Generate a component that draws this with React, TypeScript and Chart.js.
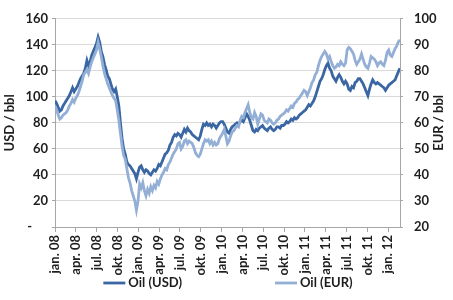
import React, { useEffect, useRef } from "react";
import { Chart, registerables } from "chart.js";

Chart.register(...registerables);

// Weekly observations starting first week of January 2008
const TICK_LABELS = [
  "jan. 08", "apr. 08", "jul. 08", "okt. 08",
  "jan. 09", "apr. 09", "jul. 09", "okt. 09",
  "jan. 10", "apr. 10", "jul. 10", "okt. 10",
  "jan. 11", "apr. 11", "jul. 11", "okt. 11",
  "jan. 12",
];

const SERIES_NAMES = ["Oil (USD)", "Oil (EUR)"];
const LEFT_TITLE = "USD / bbl";
const RIGHT_TITLE = "EUR / bbl";

// Oil price, USD per barrel (weekly)
const USD_2008 = [97,95,92,89,90,93,95,97,99,101,104,107,104,106,108,111,114,116,118,122,128,124,127,132,135,138,141,146,142,135,131,125,121,116,114,110,106,104,106,100,93,80,68,60,56,50,48,47,45,43,41,37,42];
const USD_2009 = [46,47,44,42,44,43,41,40,42,44,43,45,48,47,50,53,56,57,59,63,65,69,71,70,72,71,69,72,75,73,76,74,73,71,70,69,68,67,70,75,79,78,80,78,79,77,79,78,76,78,80,81];
const USD_2010 = [81,79,76,73,72,75,77,78,79,80,79,81,82,81,84,87,85,82,78,74,73,75,74,76,77,78,76,75,74,76,77,75,74,75,77,77,76,78,78,79,81,80,81,83,82,84,83,84,86,87,88,89];
const USD_2011_12 = [90,92,94,93,95,97,100,104,108,112,114,117,121,124,126,122,120,116,114,112,115,117,115,112,110,112,110,106,105,108,107,111,112,114,114,112,110,107,104,101,106,110,113,111,110,111,110,109,108,107,105,107,109,110,111,112,113,116,119,122];

// Oil price, EUR per barrel (weekly)
const EUR_2008 = [66.5,65,63,61.5,62,63,63.5,64,65,66.5,67.5,69,68,69.5,70.5,72,74,76,78.5,79.5,80.5,79,81.5,83.5,85,86.5,88,91,88.5,85.5,82,79,77,75,73.5,72,70.5,69.5,68.5,65,61,56,51,47.5,46,42.5,39,37,34,32,30,26.5,30];
const EUR_2009 = [36.5,35,37,34,32,34.5,33,35.5,34,36,35,37.5,36.5,38.5,40,41,42.5,42,44,45,46.5,48,49,50,52,52.5,50,51,53,53.5,52,53,52.5,52,50.5,48.5,47.5,47,48,50,52,53.5,53,53.5,52,53,51.5,52.5,51.5,52,54,55];
const EUR_2010 = [56,57.5,55,52,53,55,56.5,57,58,59,58.5,61,62.5,62,64,65.5,67,64,62,61.5,64,62.5,59.5,61.5,63.5,63,61,60.5,60,61.5,61,60,59.5,60,61,61.5,62.5,63,63.5,64,65,64.5,65.5,66.5,66,67.5,68,69,69.5,70.5,71.5,72.5];
const EUR_2011_12 = [72,70.5,72,73.5,75.5,76.5,78.5,79.5,82,84,85.5,86.5,87.5,86.5,84.5,85.5,83.5,82,81,81.5,82.5,82,83.5,82.5,82,83,88,89,88.5,87.5,86.5,84,82.5,83.5,84.5,86.5,84.5,82.5,81.5,81,83,85.5,85,84.5,83.5,82,83,83.5,82.5,82,84,87,88,86,85.5,87,88.5,89.5,91,92];

const USD = [...USD_2008, ...USD_2009, ...USD_2010, ...USD_2011_12];
const EUR = [...EUR_2008, ...EUR_2009, ...EUR_2010, ...EUR_2011_12];

const WEEK_IN_MONTHS = 7 / 30.4375;
const X_MAX_MONTHS = 49.7;

const DARK = "#3a67a3";
const LIGHT = "#93afd6";
const TEXT = "#1e1e1e";
const GRID = "#d9d9d9";
const AXIS = "#a6a6a6";
const FONT_FAMILY = "Lato, 'Open Sans', sans-serif";

const extrasPlugin = {
  id: "extras",
  afterDraw(chart: any) {
    const { ctx, chartArea } = chart;
    const cy = (chartArea.top + chartArea.bottom) / 2;
    ctx.save();
    ctx.font = `bold 13px ${FONT_FAMILY}`;
    ctx.fillStyle = TEXT;
    ctx.textAlign = "center";
    ctx.textBaseline = "middle";
    // axis titles (both read bottom-to-top)
    ctx.save();
    ctx.translate(10, cy);
    ctx.rotate(-Math.PI / 2);
    ctx.fillText(LEFT_TITLE, 0, 0);
    ctx.restore();
    ctx.save();
    ctx.translate(439, cy);
    ctx.rotate(-Math.PI / 2);
    ctx.fillText(RIGHT_TITLE, 0, 0);
    ctx.restore();

    // legend
    const lineLen = 22;
    const gapText = 3;
    const gapItems = 93;
    const items = chart.data.datasets.map((d: any) => ({
      text: d.label,
      color: d.borderColor,
      w: lineLen + gapText + ctx.measureText(d.label).width,
    }));
    const total = items.reduce((s: number, it: any) => s + it.w, 0) + gapItems * (items.length - 1);
    let x = 228 - total / 2;
    const y = 283;
    ctx.textAlign = "left";
    items.forEach((it: any) => {
      ctx.strokeStyle = it.color;
      ctx.lineWidth = 2.8;
      ctx.beginPath();
      ctx.moveTo(x, y);
      ctx.lineTo(x + lineLen, y);
      ctx.stroke();
      ctx.fillText(it.text, x + lineLen + gapText, y);
      x += it.w + gapItems;
    });
    ctx.restore();
  },
};

export default function App() {
  const canvasRef = useRef<HTMLCanvasElement | null>(null);

  useEffect(() => {
    if (!canvasRef.current) return;
    const tickFont = { family: FONT_FAMILY, size: 13, weight: "bold" as const };
    const chart = new Chart(canvasRef.current, {
      type: "line",
      data: {
        datasets: [
          {
            label: SERIES_NAMES[0],
            data: USD.map((v, i) => ({ x: i * WEEK_IN_MONTHS, y: v })),
            borderColor: DARK,
            backgroundColor: DARK,
            borderWidth: 2.8,
            pointRadius: 0,
            tension: 0,
            yAxisID: "y",
            order: 2,
          },
          {
            label: SERIES_NAMES[1],
            data: EUR.map((v, i) => ({ x: i * WEEK_IN_MONTHS, y: v })),
            borderColor: LIGHT,
            backgroundColor: LIGHT,
            borderWidth: 2.8,
            pointRadius: 0,
            tension: 0,
            yAxisID: "y2",
            order: 1,
          },
        ],
      },
      options: {
        responsive: false,
        animation: false,
        maintainAspectRatio: false,
        layout: { padding: { top: 14, left: 0, right: 0, bottom: 23 } },
        plugins: { legend: { display: false }, tooltip: { enabled: false } },
        scales: {
          x: {
            type: "linear",
            min: 0,
            max: X_MAX_MONTHS,
            afterFit: (s: any) => { s.height = 50; },
            border: { display: true, color: AXIS, width: 1 },
            grid: { drawOnChartArea: false, drawTicks: true, tickLength: 5, color: AXIS, tickColor: AXIS },
            ticks: {
              stepSize: 3,
              includeBounds: false,
              autoSkip: false,
              minRotation: 90,
              maxRotation: 90,
              padding: 3,
              color: TEXT,
              font: tickFont,
              callback: (v: any) => {
                const idx = Math.round(Number(v) / 3);
                return Math.abs(Number(v) - idx * 3) < 1e-6 ? TICK_LABELS[idx] ?? "" : "";
              },
            },
          },
          y: {
            position: "left",
            min: 0,
            max: 160,
            afterFit: (s: any) => { s.width = 55; },
            border: { display: true, color: AXIS, width: 1 },
            grid: { color: GRID, tickLength: 3, tickColor: AXIS },
            ticks: {
              stepSize: 20,
              padding: 4,
              color: TEXT,
              font: tickFont,
              callback: (v: any) => (Number(v) === 0 ? "-     " : String(v)),
            },
          },
          y2: {
            position: "right",
            min: 20,
            max: 100,
            afterFit: (s: any) => { s.width = 53; },
            border: { display: true, color: AXIS, width: 1 },
            grid: { drawOnChartArea: false, tickLength: 3, color: AXIS, tickColor: AXIS },
            ticks: {
              stepSize: 10,
              padding: 11,
              color: TEXT,
              font: tickFont,
            },
          },
        },
      },
      plugins: [extrasPlugin],
    });
    return () => chart.destroy();
  }, []);

  return (
    <div style={{ position: "fixed", left: 0, top: 0, width: 453, height: 300, background: "#fff" }}>
      <canvas ref={canvasRef} width={453} height={300} style={{ display: "block" }} />
    </div>
  );
}
